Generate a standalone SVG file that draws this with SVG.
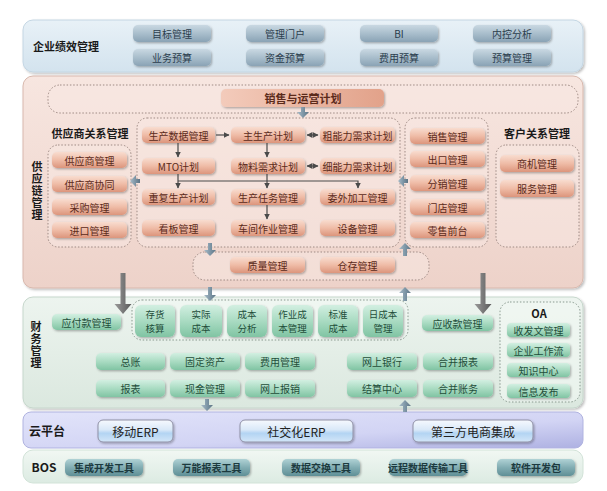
<svg xmlns="http://www.w3.org/2000/svg" width="607" height="491" viewBox="0 0 607 491">
<defs>
<linearGradient id="gTopPanel" x1="0" y1="0" x2="0" y2="1"><stop offset="0" stop-color="#e8f1f7"/><stop offset="1" stop-color="#d3e3ee"/></linearGradient>
<linearGradient id="gSupPanel" x1="0" y1="0" x2="0" y2="1"><stop offset="0" stop-color="#f7e6e0"/><stop offset="1" stop-color="#edd2c9"/></linearGradient>
<linearGradient id="gFinPanel" x1="0" y1="0" x2="0" y2="1"><stop offset="0" stop-color="#edf4ef"/><stop offset="1" stop-color="#dbe8df"/></linearGradient>
<linearGradient id="gCloudPanel" x1="0" y1="0" x2="1" y2="1"><stop offset="0" stop-color="#e2e4fa"/><stop offset="0.6" stop-color="#d2d4f4"/><stop offset="1" stop-color="#aeb1e2"/></linearGradient>
<linearGradient id="gBosPanel" x1="0" y1="0" x2="0" y2="1"><stop offset="0" stop-color="#f1f7f3"/><stop offset="1" stop-color="#dcebe2"/></linearGradient>
<linearGradient id="gBlue" x1="0" y1="0" x2="0" y2="1"><stop offset="0" stop-color="#c9d8e2"/><stop offset="0.5" stop-color="#a9becc"/><stop offset="1" stop-color="#8aa3b5"/></linearGradient>
<linearGradient id="gSalmon" x1="0" y1="0" x2="0" y2="1"><stop offset="0" stop-color="#f8dccf"/><stop offset="0.5" stop-color="#efbca7"/><stop offset="1" stop-color="#dc957c"/></linearGradient>
<linearGradient id="gSalmonBig" x1="0" y1="0" x2="1" y2="0"><stop offset="0" stop-color="#f3cbbb"/><stop offset="1" stop-color="#e2a28a"/></linearGradient>
<linearGradient id="gGreen" x1="0" y1="0" x2="0" y2="1"><stop offset="0" stop-color="#d2efe1"/><stop offset="0.5" stop-color="#a9dbc2"/><stop offset="1" stop-color="#80c4a3"/></linearGradient>
<linearGradient id="gCloudBtn" x1="0" y1="0" x2="0" y2="1"><stop offset="0" stop-color="#f6f9fe"/><stop offset="0.45" stop-color="#d9e8f8"/><stop offset="0.6" stop-color="#b3d4f3"/><stop offset="1" stop-color="#d3e6f8"/></linearGradient>
<linearGradient id="gTeal" x1="0" y1="0" x2="0" y2="1"><stop offset="0" stop-color="#b0d2d5"/><stop offset="0.5" stop-color="#82adb3"/><stop offset="1" stop-color="#5f8f96"/></linearGradient>
<linearGradient id="gFat" x1="0" y1="0" x2="1" y2="0"><stop offset="0" stop-color="#a9bcc8"/><stop offset="0.5" stop-color="#7f97a7"/><stop offset="1" stop-color="#5e7585"/></linearGradient>
<linearGradient id="gBig" x1="0" y1="0" x2="1" y2="0"><stop offset="0" stop-color="#9a9a9a"/><stop offset="0.5" stop-color="#7a7a7a"/><stop offset="1" stop-color="#5a5a5a"/></linearGradient>
<filter id="sh" x="-10%" y="-20%" width="130%" height="160%"><feDropShadow dx="1" dy="1.2" stdDeviation="0.8" flood-color="#000" flood-opacity="0.3"/></filter>
<filter id="psh" x="-5%" y="-5%" width="110%" height="115%"><feDropShadow dx="1.5" dy="1.5" stdDeviation="1.2" flood-color="#000" flood-opacity="0.25"/></filter>
<marker id="ar" viewBox="0 0 6 6" refX="5.5" refY="3" markerWidth="5" markerHeight="5" orient="auto-start-reverse"><path d="M0,0 L6,3 L0,6 z" fill="#4a4a4a"/></marker>
</defs>
<style>
text{font-family:"Noto Sans CJK SC","Noto Sans",sans-serif;text-anchor:middle;dominant-baseline:central}
.bt{font-size:10px}
.b2{font-size:9.5px}
.ti{font-size:11px;font-weight:bold;fill:#1a1a1a}
.vl{font-size:11px;font-weight:bold;fill:#1a1a1a;writing-mode:vertical-rl;letter-spacing:1px}
.b-blue{fill:url(#gBlue);filter:url(#sh)}
.t-blue{fill:#2b3d4d}
.b-sal{fill:url(#gSalmon);filter:url(#sh)}
.t-sal{fill:#5b2a1a}
.b-grn{fill:url(#gGreen);filter:url(#sh)}
.t-grn{fill:#1f4e3a}
.b-cld{fill:url(#gCloudBtn);stroke:#8f90a6;stroke-width:1;filter:url(#sh)}
.t-cld{fill:#222;font-size:12px}
.b-teal{fill:url(#gTeal);filter:url(#sh)}
.t-teal{fill:#1c3a3f;font-weight:bold}
.dot-s{fill:#f7e7e2;fill-opacity:0.55;stroke:#9e8a84;stroke-width:1;stroke-dasharray:1.5 1.8}
.dot-f{fill:#f2f8f4;fill-opacity:0.6;stroke:#8a9a90;stroke-width:1;stroke-dasharray:1.5 1.8}
.ln{stroke:#4a4a4a;stroke-width:1.2;fill:none}
.fat{fill:url(#gFat)}
.big{fill:url(#gBig)}
</style>

<!-- panels -->
<g id="panels">
<rect x="23" y="20" width="560" height="52" rx="10" fill="url(#gTopPanel)" stroke="#c4d6e3" filter="url(#psh)"/>
<rect x="23" y="76" width="560" height="212" rx="10" fill="url(#gSupPanel)" stroke="#d8b8ad" filter="url(#psh)"/>
<rect x="23" y="297" width="560" height="111" rx="10" fill="url(#gFinPanel)" stroke="#c6d7cc" filter="url(#psh)"/>
<rect x="23" y="412" width="560" height="36" rx="8" fill="url(#gCloudPanel)" stroke="#b0b3e0"/>
<rect x="23" y="450" width="560" height="33" rx="10" fill="url(#gBosPanel)" stroke="#d2e3d8"/>
<rect x="48" y="85" width="530" height="28" rx="12" class="dot-s"/>
<rect x="48" y="145" width="83" height="102" rx="10" class="dot-s"/>
<rect x="137" y="118" width="263" height="129" rx="10" class="dot-s"/>
<rect x="405" y="118" width="83" height="129" rx="10" class="dot-s"/>
<rect x="496" y="145" width="83" height="102" rx="10" class="dot-s"/>
<rect x="193" y="252" width="236" height="28" rx="12" class="dot-s"/>
<rect x="132" y="300" width="276" height="40" rx="10" class="dot-f"/>
<rect x="500" y="302" width="80" height="100" rx="10" class="dot-f"/>
</g>

<!-- titles -->
<g id="titles">
<text x="66" y="46" class="ti">企业绩效管理</text>
<text x="90" y="133" class="ti">供应商关系管理</text>
<text x="537" y="133" class="ti">客户关系管理</text>
<text x="539" y="313" class="ti">OA</text>
<text x="47" y="430" class="ti" style="font-size:12px">云平台</text>
<text x="44" y="466" class="ti" style="font-size:12px">BOS</text>
<text x="37" y="191" class="vl">供应链管理</text>
<text x="36" y="345" class="vl">财务管理</text>
</g>

<!-- top: 企业绩效管理 -->
<g id="n-mubiao"><rect x="133" y="25" width="78" height="17" rx="5" class="b-blue"/><text x="172" y="33.5" class="bt t-blue">目标管理</text></g>
<g id="n-menhu"><rect x="246" y="25" width="78" height="17" rx="5" class="b-blue"/><text x="285" y="33.5" class="bt t-blue">管理门户</text></g>
<g id="n-bi"><rect x="360" y="25" width="78" height="17" rx="5" class="b-blue"/><text x="399" y="33.5" class="bt t-blue">BI</text></g>
<g id="n-neikong"><rect x="473" y="25" width="78" height="17" rx="5" class="b-blue"/><text x="512" y="33.5" class="bt t-blue">内控分析</text></g>
<g id="n-yewu"><rect x="133" y="49" width="78" height="17" rx="5" class="b-blue"/><text x="172" y="57.5" class="bt t-blue">业务预算</text></g>
<g id="n-zijin"><rect x="246" y="49" width="78" height="17" rx="5" class="b-blue"/><text x="285" y="57.5" class="bt t-blue">资金预算</text></g>
<g id="n-feiyongys"><rect x="360" y="49" width="78" height="17" rx="5" class="b-blue"/><text x="399" y="57.5" class="bt t-blue">费用预算</text></g>
<g id="n-yusuan"><rect x="473" y="49" width="78" height="17" rx="5" class="b-blue"/><text x="512" y="57.5" class="bt t-blue">预算管理</text></g>

<!-- supply chain -->
<g id="n-xiaoshouyy"><rect x="221" y="89" width="163" height="18" rx="5" fill="url(#gSalmonBig)" filter="url(#sh)"/><text x="303" y="98" class="t-sal" style="font-size:11px;font-weight:bold">销售与运营计划</text></g>

<g id="n-gys"><rect x="52" y="152" width="75" height="16" rx="5" class="b-sal"/><text x="89.5" y="160" class="bt t-sal">供应商管理</text></g>
<g id="n-gysxt"><rect x="52" y="176" width="75" height="16" rx="5" class="b-sal"/><text x="89.5" y="184" class="bt t-sal">供应商协同</text></g>
<g id="n-caigou"><rect x="52" y="199" width="75" height="16" rx="5" class="b-sal"/><text x="89.5" y="207" class="bt t-sal">采购管理</text></g>
<g id="n-jinkou"><rect x="52" y="222" width="75" height="16" rx="5" class="b-sal"/><text x="89.5" y="230" class="bt t-sal">进口管理</text></g>

<g id="n-scsj"><rect x="142" y="127" width="73" height="16" rx="5" class="b-sal"/><text x="178.5" y="135" class="bt t-sal">生产数据管理</text></g>
<g id="n-zscjh"><rect x="231" y="127" width="74" height="16" rx="5" class="b-sal"/><text x="268" y="135" class="bt t-sal">主生产计划</text></g>
<g id="n-cnl"><rect x="320" y="127" width="75" height="16" rx="5" class="b-sal"/><text x="357.5" y="135" class="bt t-sal">粗能力需求计划</text></g>
<g id="n-mto"><rect x="142" y="158" width="73" height="16" rx="5" class="b-sal"/><text x="178.5" y="166" class="bt t-sal">MTO计划</text></g>
<g id="n-wlxq"><rect x="231" y="158" width="74" height="16" rx="5" class="b-sal"/><text x="268" y="166" class="bt t-sal">物料需求计划</text></g>
<g id="n-xnl"><rect x="320" y="158" width="75" height="16" rx="5" class="b-sal"/><text x="357.5" y="166" class="bt t-sal">细能力需求计划</text></g>
<g id="n-cfsc"><rect x="142" y="189" width="73" height="16" rx="5" class="b-sal"/><text x="178.5" y="197" class="bt t-sal">重复生产计划</text></g>
<g id="n-scrw"><rect x="231" y="189" width="74" height="16" rx="5" class="b-sal"/><text x="268" y="197" class="bt t-sal">生产任务管理</text></g>
<g id="n-wwjg"><rect x="320" y="189" width="75" height="16" rx="5" class="b-sal"/><text x="357.5" y="197" class="bt t-sal">委外加工管理</text></g>
<g id="n-kanban"><rect x="142" y="220" width="73" height="16" rx="5" class="b-sal"/><text x="178.5" y="228" class="bt t-sal">看板管理</text></g>
<g id="n-cjzy"><rect x="231" y="220" width="74" height="16" rx="5" class="b-sal"/><text x="268" y="228" class="bt t-sal">车间作业管理</text></g>
<g id="n-shebei"><rect x="320" y="220" width="75" height="16" rx="5" class="b-sal"/><text x="357.5" y="228" class="bt t-sal">设备管理</text></g>

<g id="n-xsgl"><rect x="410" y="128" width="75" height="16" rx="5" class="b-sal"/><text x="447.5" y="136" class="bt t-sal">销售管理</text></g>
<g id="n-ckgl"><rect x="410" y="151" width="75" height="16" rx="5" class="b-sal"/><text x="447.5" y="159" class="bt t-sal">出口管理</text></g>
<g id="n-fxgl"><rect x="410" y="175" width="75" height="16" rx="5" class="b-sal"/><text x="447.5" y="183" class="bt t-sal">分销管理</text></g>
<g id="n-mdgl"><rect x="410" y="199" width="75" height="16" rx="5" class="b-sal"/><text x="447.5" y="207" class="bt t-sal">门店管理</text></g>
<g id="n-lsqt"><rect x="410" y="222" width="75" height="16" rx="5" class="b-sal"/><text x="447.5" y="230" class="bt t-sal">零售前台</text></g>

<g id="n-shangji"><rect x="500" y="155" width="74" height="17" rx="5" class="b-sal"/><text x="537" y="163.5" class="bt t-sal">商机管理</text></g>
<g id="n-fuwu"><rect x="500" y="180" width="74" height="17" rx="5" class="b-sal"/><text x="537" y="188.5" class="bt t-sal">服务管理</text></g>

<g id="n-zhiliang"><rect x="230" y="257" width="75" height="16" rx="5" class="b-sal"/><text x="267.5" y="265" class="bt t-sal">质量管理</text></g>
<g id="n-cangcun"><rect x="320" y="257" width="75" height="16" rx="5" class="b-sal"/><text x="357.5" y="265" class="bt t-sal">仓存管理</text></g>

<!-- finance -->
<g id="n-yingfu"><rect x="52" y="314" width="69" height="16" rx="5" class="b-grn"/><text x="86.5" y="322" class="bt t-grn">应付款管理</text></g>
<g id="n-cunhuo"><rect x="135" y="305" width="40" height="32" rx="6" class="b-grn"/><text x="155" y="314" class="b2 t-grn">存货</text><text x="155" y="328" class="b2 t-grn">核算</text></g>
<g id="n-shiji"><rect x="180" y="305" width="42" height="32" rx="6" class="b-grn"/><text x="201" y="314" class="b2 t-grn">实际</text><text x="201" y="328" class="b2 t-grn">成本</text></g>
<g id="n-cbfx"><rect x="227" y="305" width="40" height="32" rx="6" class="b-grn"/><text x="247" y="314" class="b2 t-grn">成本</text><text x="247" y="328" class="b2 t-grn">分析</text></g>
<g id="n-zycb"><rect x="272" y="305" width="41" height="32" rx="6" class="b-grn"/><text x="292.5" y="314" class="b2 t-grn">作业成</text><text x="292.5" y="328" class="b2 t-grn">本管理</text></g>
<g id="n-bzcb"><rect x="318" y="305" width="40" height="32" rx="6" class="b-grn"/><text x="338" y="314" class="b2 t-grn">标准</text><text x="338" y="328" class="b2 t-grn">成本</text></g>
<g id="n-rcb"><rect x="363" y="305" width="40" height="32" rx="6" class="b-grn"/><text x="383" y="314" class="b2 t-grn">日成本</text><text x="383" y="328" class="b2 t-grn">管理</text></g>
<g id="n-yingshou"><rect x="422" y="315" width="71" height="16" rx="5" class="b-grn"/><text x="457.5" y="323" class="bt t-grn">应收款管理</text></g>

<g id="n-zongzhang"><rect x="96" y="353" width="69" height="17" rx="5" class="b-grn"/><text x="130.5" y="361.5" class="bt t-grn">总账</text></g>
<g id="n-guding"><rect x="170" y="353" width="70" height="17" rx="5" class="b-grn"/><text x="205" y="361.5" class="bt t-grn">固定资产</text></g>
<g id="n-feiyong"><rect x="245" y="353" width="70" height="17" rx="5" class="b-grn"/><text x="280" y="361.5" class="bt t-grn">费用管理</text></g>
<g id="n-wsyh"><rect x="347" y="353" width="70" height="17" rx="5" class="b-grn"/><text x="382" y="361.5" class="bt t-grn">网上银行</text></g>
<g id="n-hbbb"><rect x="423" y="353" width="70" height="17" rx="5" class="b-grn"/><text x="458" y="361.5" class="bt t-grn">合并报表</text></g>
<g id="n-baobiao"><rect x="96" y="380" width="69" height="17" rx="5" class="b-grn"/><text x="130.5" y="388.5" class="bt t-grn">报表</text></g>
<g id="n-xianjin"><rect x="170" y="380" width="70" height="17" rx="5" class="b-grn"/><text x="205" y="388.5" class="bt t-grn">现金管理</text></g>
<g id="n-wsbx"><rect x="245" y="380" width="70" height="17" rx="5" class="b-grn"/><text x="280" y="388.5" class="bt t-grn">网上报销</text></g>
<g id="n-jiesuan"><rect x="347" y="380" width="70" height="17" rx="5" class="b-grn"/><text x="382" y="388.5" class="bt t-grn">结算中心</text></g>
<g id="n-hbzw"><rect x="423" y="380" width="70" height="17" rx="5" class="b-grn"/><text x="458" y="388.5" class="bt t-grn">合并账务</text></g>

<g id="n-shoufa"><rect x="507" y="323" width="63" height="14" rx="4" class="b-grn"/><text x="538.5" y="330" class="bt t-grn">收发文管理</text></g>
<g id="n-gzl"><rect x="507" y="343" width="63" height="14" rx="4" class="b-grn"/><text x="538.5" y="350" class="bt t-grn">企业工作流</text></g>
<g id="n-zhishi"><rect x="507" y="363" width="63" height="14" rx="4" class="b-grn"/><text x="538.5" y="370" class="bt t-grn">知识中心</text></g>
<g id="n-xinxi"><rect x="507" y="384" width="63" height="14" rx="4" class="b-grn"/><text x="538.5" y="391" class="bt t-grn">信息发布</text></g>

<!-- cloud -->
<g id="n-yidong"><rect x="98" y="420" width="75" height="22" rx="5" class="b-cld"/><text x="135.5" y="431" class="t-cld">移动ERP</text></g>
<g id="n-shejiao"><rect x="240" y="420" width="113" height="22" rx="5" class="b-cld"/><text x="296.5" y="431" class="t-cld">社交化ERP</text></g>
<g id="n-dianshang"><rect x="413" y="420" width="120" height="22" rx="5" class="b-cld"/><text x="473" y="431" class="t-cld">第三方电商集成</text></g>

<!-- BOS -->
<g id="n-jicheng"><rect x="65" y="459" width="78" height="17" rx="5" class="b-teal"/><text x="104" y="467.5" class="bt t-teal">集成开发工具</text></g>
<g id="n-wanneng"><rect x="173" y="459" width="77" height="17" rx="5" class="b-teal"/><text x="211.5" y="467.5" class="bt t-teal">万能报表工具</text></g>
<g id="n-shuju"><rect x="282" y="459" width="78" height="17" rx="5" class="b-teal"/><text x="321" y="467.5" class="bt t-teal">数据交换工具</text></g>
<g id="n-yuancheng"><rect x="389" y="459" width="78" height="17" rx="5" class="b-teal"/><text x="428" y="467.5" class="bt t-teal">远程数据传输工具</text></g>
<g id="n-kaifabao"><rect x="497" y="459" width="78" height="17" rx="5" class="b-teal"/><text x="536" y="467.5" class="bt t-teal">软件开发包</text></g>

<!-- connectors -->
<g id="connectors">
<line x1="216" y1="135" x2="229" y2="135" class="ln" marker-end="url(#ar)"/>
<line x1="307" y1="135" x2="318" y2="135" class="ln" marker-start="url(#ar)" marker-end="url(#ar)"/>
<line x1="307" y1="166" x2="318" y2="166" class="ln" marker-start="url(#ar)" marker-end="url(#ar)"/>
<line x1="178" y1="143" x2="178" y2="157" class="ln" marker-end="url(#ar)"/>
<line x1="267" y1="143" x2="267" y2="157" class="ln" marker-end="url(#ar)"/>
<line x1="178" y1="174" x2="178" y2="188" class="ln" marker-end="url(#ar)"/>
<line x1="267" y1="174" x2="267" y2="188" class="ln" marker-end="url(#ar)"/>
<polyline points="178,181 358,181 358,188" class="ln" marker-end="url(#ar)"/>
<line x1="267" y1="205" x2="267" y2="219" class="ln" marker-end="url(#ar)"/>
<path class="fat" d="M301,107 h4 v5 h4 l-6,6 l-6,-6 h4 z"/>
<path class="fat" d="M140,179 v4 h-4 v4 l-6,-6 l6,-6 v4 z"/>
<path class="fat" d="M408,179 v4 h-4 v4 l-6,-6 l6,-6 v4 z"/>
<path class="fat" d="M208,243 h4 v7 h4 l-6,6 l-6,-6 h4 z"/>
<path class="fat" d="M403,256 h4 v-7 h4 l-6,-6 l-6,6 h4 z"/>
<path class="fat" d="M208,287 h4 v8 h4 l-6,6 l-6,-6 h4 z"/>
<path class="fat" d="M403,301 h4 v-8 h4 l-6,-6 l-6,6 h4 z"/>
<path class="fat" d="M205,399 h4 v6 h4 l-6,6 l-6,-6 h4 z"/>
<path class="fat" d="M403,412 h4 v-6 h4 l-6,-6 l-6,6 h4 z"/>
<path class="big" d="M120.5,273 h5 v31 h6 l-8.5,10 l-8.5,-10 h6 z"/>
<path class="big" d="M480.5,273 h5 v31 h6 l-8.5,10 l-8.5,-10 h6 z"/>
</g>
</svg>
